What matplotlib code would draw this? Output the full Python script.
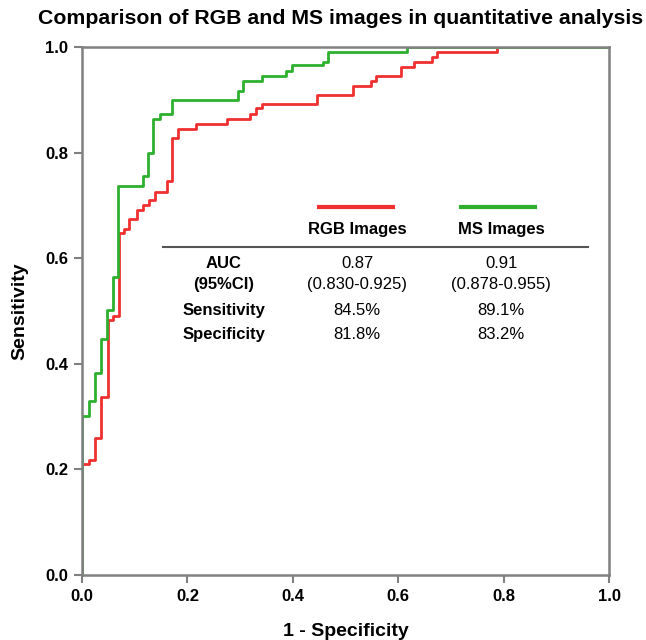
import matplotlib
matplotlib.use('Agg')
import matplotlib.pyplot as plt

# ROC corner points (steps-post order)
RGB_FPR = [0, 0, .013, .024, .036, .049, .059, .071, .080, .090, .104, .115, .127, .139, .161, .170,
           .182, .216, .275, .319, .330, .342, .445, .514, .548, .558, .605, .629, .664, .673, .787, 1.0]
RGB_TPR = [0, .21, .218, .259, .338, .482, .49, .647, .655, .674, .691, .701, .710, .726, .747, .827,
           .845, .855, .864, .874, .884, .892, .909, .927, .936, .945, .963, .972, .981, .991, 1.0, 1.0]

MS_FPR = [0, 0, .013, .024, .036, .047, .058, .069, .115, .126, .135, .148, .170, .296, .306, .342,
          .387, .398, .457, .467, .616, 1.0]
MS_TPR = [0, .301, .330, .383, .447, .502, .564, .736, .755, .80, .863, .873, .90, .917, .936, .945,
          .955, .965, .972, .991, 1.0, 1.0]

SERIES = ['RGB Images', 'MS Images']
ROW_LABELS = ['AUC', '(95%CI)', 'Sensitivity', 'Specificity']
RGB_STATS = ['0.87', '(0.830-0.925)', '84.5%', '81.8%']
MS_STATS = ['0.91', '(0.878-0.955)', '89.1%', '83.2%']

RED = '#f03030'
GREEN = '#2eb02e'
GREY = '#808080'

plt.rcParams['font.family'] = ['Liberation Sans', 'DejaVu Sans']


def main():
    fig = plt.figure(figsize=(6.46, 6.4), dpi=100)
    ax = fig.add_axes([0.127, 0.1016, 0.816, 0.825])

    ax.plot(RGB_FPR, RGB_TPR, drawstyle='steps-post', color=RED, lw=2)
    ax.plot(MS_FPR, MS_TPR, drawstyle='steps-post', color=GREEN, lw=2)

    ax.set_xlim(0, 1)
    ax.set_ylim(0, 1)
    ticks = [0.0, 0.2, 0.4, 0.6, 0.8, 1.0]
    ax.set_xticks(ticks)
    ax.set_yticks(ticks)
    ax.set_xticklabels(['%.1f' % t for t in ticks], fontweight='bold', fontsize=12)
    ax.set_yticklabels(['%.1f' % t for t in ticks], fontweight='bold', fontsize=12)
    ax.tick_params(direction='out', length=6, width=1.5, color=GREY, pad=4)
    for s in ax.spines.values():
        s.set_color(GREY)
        s.set_linewidth(1.8)

    ax.set_xlabel('1 - Specificity', fontweight='bold', fontsize=14, labelpad=14)
    ax.set_ylabel('Sensitivity', fontweight='bold', fontsize=14, labelpad=12)
    fig.text(38 / 646, 1 - 18 / 640, 'Comparison of RGB and MS images in quantitative analysis',
             fontweight='bold', fontsize=15.3, ha='left', va='center')

    # stats table inside the plot
    tr = ax.transAxes
    col_x = [0.269, 0.522, 0.795]
    ax.plot([0.450, 0.590], [0.697, 0.697], color=RED, lw=3, transform=tr)
    ax.plot([0.719, 0.860], [0.697, 0.697], color=GREEN, lw=3, transform=tr)
    ax.text(col_x[1], 0.655, SERIES[0], transform=tr, ha='center', va='center',
            fontweight='bold', fontsize=12)
    ax.text(col_x[2], 0.655, SERIES[1], transform=tr, ha='center', va='center',
            fontweight='bold', fontsize=12)
    ax.plot([0.154, 0.960], [0.621, 0.621], color='#555555', lw=1.5, transform=tr)
    row_y = [0.590, 0.550, 0.500, 0.455]
    for i in range(len(ROW_LABELS)):
        ax.text(col_x[0], row_y[i], ROW_LABELS[i], transform=tr, ha='center', va='center',
                fontweight='bold', fontsize=12)
        ax.text(col_x[1], row_y[i], RGB_STATS[i], transform=tr, ha='center', va='center', fontsize=12)
        ax.text(col_x[2], row_y[i], MS_STATS[i], transform=tr, ha='center', va='center', fontsize=12)

    fig.savefig('out.png', dpi=100)


if __name__ == "__main__":
    main()
